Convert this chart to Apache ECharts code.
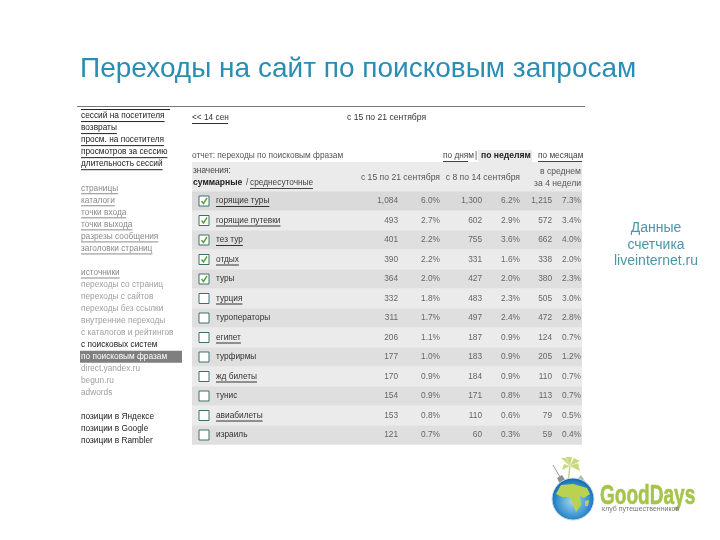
<!DOCTYPE html>
<html style="height: 100%">
<head>
<meta charset="utf-8">
</head>
<body style="height: 100%; margin: 0; background: #fff">
<div id="container" style="width: 720px; height: 540px"></div>
<script src="https://cdn.jsdelivr.net/npm/echarts@6/dist/echarts.min.js"></script>
<script>
var phrases = ['горящие туры', 'горящие путевки', 'тез тур', 'отдых', 'туры', 'турция', 'туроператоры',
    'египет', 'турфирмы', 'жд билеты', 'тунис', 'авиабилеты', 'израиль'];
var linked = [1, 1, 1, 1, 0, 1, 0, 1, 0, 1, 0, 1, 0];
var checked = [1, 1, 1, 1, 1, 0, 0, 0, 0, 0, 0, 0, 0];
var week1 = [1084, 493, 401, 390, 364, 332, 311, 206, 177, 170, 154, 153, 121];
var share1 = [6.0, 2.7, 2.2, 2.2, 2.0, 1.8, 1.7, 1.1, 1.0, 0.9, 0.9, 0.8, 0.7];
var week2 = [1300, 602, 755, 331, 427, 483, 497, 187, 183, 184, 171, 110, 60];
var share2 = [6.2, 2.9, 3.6, 1.6, 2.0, 2.3, 2.4, 0.9, 0.9, 0.9, 0.8, 0.6, 0.3];
var avg4 = [1215, 572, 662, 338, 380, 505, 472, 124, 205, 110, 113, 79, 59];
var shareAvg = [7.3, 3.4, 4.0, 2.0, 2.3, 3.0, 2.8, 0.7, 1.2, 0.7, 0.7, 0.5, 0.4];

var menuStats = ['посетителей за сессию', 'сессий на посетителя', 'возвраты', 'просм. на посетителя', 'просмотров за сессию', 'длительность сессий'];
var menuPages = ['страницы', 'каталоги', 'точки входа', 'точки выхода', 'разрезы сообщения', 'заголовки страниц'];
var menuSources = ['источники'];
var menuFrom = ['переходы со страниц', 'переходы с сайтов', 'переходы без ссылки', 'внутренние переходы', 'с каталогов и рейтингов'];
var menuSearch = ['с поисковых систем'];
var menuCurrent = ['по поисковым фразам'];
var menuEngines = ['direct.yandex.ru', 'begun.ru', 'adwords'];
var menuPositions = ['позиции в Яндексе', 'позиции в Google', 'позиции в Rambler'];

var titleText = 'Переходы на сайт по поисковым запросам';
var noteLines = ['Данные', 'счетчика', 'liveinternet.ru'];

var FONT = '"Liberation Sans", Arial, sans-serif';
var SMALL = '8.3px ' + FONT;
var HEAD = '8.6px ' + FONT;
var NOTE = '14px ' + FONT;
var measure = document.createElement('canvas').getContext('2d');

function textWidth(text, font) {
    measure.font = font;
    return measure.measureText(text).width;
}

// one menu list: [label, colour, underlined]
var menu = [];
function addMenu(items, color, line) {
    items.forEach(function (t) { menu.push([t, color, line]); });
}
addMenu(menuStats, '#222', true);
menu.push(['', '#000', false]);
addMenu(menuPages, '#8a8a8a', true);
menu.push(['', '#000', false]);
addMenu(menuSources, '#8a8a8a', true);
addMenu(menuFrom, '#a0a0a0', false);
addMenu(menuSearch, '#222', false);
addMenu(menuCurrent, '#fff', false);
addMenu(menuEngines, '#a0a0a0', false);
menu.push(['', '#000', false]);
addMenu(menuPositions, '#222', false);

function underlinedText(x, y, text, color, line, font) {
    var out = [{
        type: 'text',
        style: {x: x, y: y, text: text, fill: color, font: font, align: 'left', verticalAlign: 'middle'}
    }];
    if (line) {
        out.push({
            type: 'line',
            shape: {x1: x, y1: y + 5.5, x2: x + textWidth(text, font), y2: y + 5.5},
            style: {stroke: color, lineWidth: 1}
        });
    }
    return out;
}

function numText(x, y, text) {
    return {
        type: 'text',
        style: {x: x, y: y, text: text, fill: '#666', font: SMALL, align: 'right', verticalAlign: 'middle'}
    };
}

function thousands(v) {
    return v >= 1000 ? Math.floor(v / 1000) + ',' + String(v % 1000).padStart(3, '0') : String(v);
}

function renderRow(params, api) {
    var i = api.value(1);
    var p = api.coord([0, i]);
    var left = p[0];
    var y = p[1];
    var children = [{
        type: 'rect',
        shape: {x: left + 7, y: y - 5, width: 10, height: 10},
        style: {fill: '#fff', stroke: '#3f6f6f', lineWidth: 1}
    }];
    if (checked[i]) {
        children.push({
            type: 'polyline',
            shape: {points: [[left + 9.5, y], [left + 11.5, y + 2.5], [left + 15, y - 3]]},
            style: {fill: null, stroke: '#4fa03c', lineWidth: 1.4}
        });
    }
    children = children.concat(underlinedText(left + 24, y, phrases[i], '#333', linked[i], SMALL));
    children.push(numText(left + 206, y, thousands(week1[i])));
    children.push(numText(left + 248, y, share1[i].toFixed(1) + '%'));
    children.push(numText(left + 290, y, thousands(week2[i])));
    children.push(numText(left + 328, y, share2[i].toFixed(1) + '%'));
    children.push(numText(left + 360, y, thousands(avg4[i])));
    children.push(numText(left + 389, y, shareAvg[i].toFixed(1) + '%'));
    return {type: 'group', children: children};
}

function renderMenu(params, api) {
    var i = api.value(1);
    var p = api.coord([0, i]);
    return {
        type: 'group',
        children: underlinedText(p[0] + 1, p[1], menu[i][0], menu[i][1], menu[i][2], SMALL)
    };
}

function label(x, y, text, align, color, font) {
    return {
        type: 'text',
        silent: true,
        style: {x: x, y: y, text: text, fill: color || '#444', font: font || SMALL, align: align || 'left', verticalAlign: 'middle'}
    };
}

function logo() {
    var cx = 573, cy = 499, r = 21;
    var leaf = '#c9d97c';
    return [
        {type: 'line', shape: {x1: 553, y1: 465, x2: 563, y2: 482}, style: {stroke: '#999', lineWidth: 1}},
        {type: 'polygon', shape: {points: [[557, 478], [562, 475], [568, 484], [560, 484]]}, style: {fill: '#8b8f90'}},
        {type: 'polygon', shape: {points: [[575, 482], [581, 475], [586, 483], [582, 486]]}, style: {fill: '#b5b5b0'}},
        {type: 'line', shape: {x1: 570, y1: 466, x2: 568, y2: 482}, style: {stroke: leaf, lineWidth: 1.5}},
        {type: 'polygon', shape: {points: [[570, 466], [561, 458], [566, 458]]}, style: {fill: leaf}},
        {type: 'polygon', shape: {points: [[570, 466], [566, 457], [572, 457]]}, style: {fill: leaf}},
        {type: 'polygon', shape: {points: [[570, 466], [574, 458], [580, 461]]}, style: {fill: leaf}},
        {type: 'polygon', shape: {points: [[570, 466], [578, 463], [580, 471]]}, style: {fill: leaf}},
        {type: 'polygon', shape: {points: [[570, 466], [564, 464], [562, 470]]}, style: {fill: leaf}},
        {
            type: 'circle',
            shape: {cx: cx, cy: cy, r: r},
            style: {
                fill: new echarts.graphic.RadialGradient(0.5, 0.55, 0.5, [
                    {offset: 0, color: '#a9d6ef'},
                    {offset: 0.7, color: '#3d97d3'},
                    {offset: 1, color: '#1a6fb4'}
                ]),
                stroke: '#c8dcea',
                lineWidth: 1
            }
        },
        {type: 'polygon', shape: {points: [[561, 485], [573, 484], [587, 488], [590, 494], [584, 498], [580, 496], [581, 505], [576, 512], [573, 505], [570, 497], [562, 497], [556, 494]]}, style: {fill: '#b9d24f'}},
        {type: 'polygon', shape: {points: [[585, 501], [589, 500], [588, 506], [585, 506]]}, style: {fill: '#b9d24f'}},
        {
            type: 'text',
            x: 600,
            y: 496,
            scaleX: 0.68,
            style: {x: 0, y: 0, text: 'GoodDays', fill: '#a6c34a', font: 'bold 28px ' + FONT, align: 'left', verticalAlign: 'middle', stroke: '#a6c34a', lineWidth: 0.6}
        },
        {type: 'text', style: {x: 602, y: 509, text: 'клуб путешественников', fill: '#777', font: '7px ' + FONT, align: 'left', verticalAlign: 'middle'}}
    ];
}

var myChart = echarts.init(document.getElementById('container'), null, {renderer: 'canvas'});

var option = {
    animation: false,
    backgroundColor: '#fff',
    grid: [
        {left: 192, top: 191.25, width: 390, height: 253.5},
        {left: 80, top: 98, width: 102, height: 349}
    ],
    xAxis: [
        {gridIndex: 0, type: 'value', min: 0, max: 1, show: false},
        {gridIndex: 1, type: 'value', min: 0, max: 1, show: false}
    ],
    yAxis: [
        {gridIndex: 0, type: 'category', inverse: true, data: phrases, show: false},
        {gridIndex: 1, type: 'category', inverse: true, data: menu.map(function (m) { return m[0]; }), show: false}
    ],
    series: [
        {
            type: 'bar',
            xAxisIndex: 0,
            yAxisIndex: 0,
            barWidth: '100%',
            silent: true,
            data: phrases.map(function (p, i) {
                return {value: 1, itemStyle: {color: i === 0 ? '#dadada' : (i % 2 ? '#ebebeb' : '#dfdfdf')}};
            })
        },
        {
            type: 'custom',
            xAxisIndex: 0,
            yAxisIndex: 0,
            silent: true,
            clip: false,
            encode: {x: 0, y: 1},
            renderItem: renderRow,
            data: phrases.map(function (p, i) { return [0, i]; }),
            z: 3
        },
        {
            type: 'bar',
            xAxisIndex: 1,
            yAxisIndex: 1,
            barWidth: '100%',
            silent: true,
            itemStyle: {color: '#7f7f7f'},
            data: menu.map(function (m) { return menuCurrent.indexOf(m[0]) >= 0 ? 1 : null; })
        },
        {
            type: 'custom',
            xAxisIndex: 1,
            yAxisIndex: 1,
            silent: true,
            clip: false,
            encode: {x: 0, y: 1},
            renderItem: renderMenu,
            data: menu.map(function (m, i) { return [0, i]; }),
            z: 3
        }
    ],
    graphic: {
        elements: [
            label(80, 69, titleText, 'left', '#2a8db3', '28px ' + FONT),
            {type: 'rect', z: 10, shape: {x: 70, y: 90, width: 120, height: 17}, style: {fill: '#fff'}},
            {type: 'line', z: 11, shape: {x1: 77, y1: 106.5, x2: 585, y2: 106.5}, style: {stroke: '#777', lineWidth: 1}},

            label(192, 118, '<< 14 сен', 'left', '#333'),
            {type: 'line', shape: {x1: 192, y1: 123.5, x2: 228, y2: 123.5}, style: {stroke: '#333', lineWidth: 1}},
            label(347, 118, 'с 15 по 21 сентября', 'left', '#333', HEAD),

            label(192, 156, 'отчет: переходы по поисковым фразам', 'left', '#555'),
            {type: 'rect', shape: {x: 478, y: 150, width: 54, height: 12}, style: {fill: '#ebebeb'}},
            {type: 'rect', shape: {x: 192, y: 162, width: 390, height: 29.25}, style: {fill: '#ebebeb'}},
            label(443, 156, 'по дням', 'left', '#444'),
            {type: 'line', shape: {x1: 443, y1: 161.5, x2: 468, y2: 161.5}, style: {stroke: '#444', lineWidth: 1}},
            label(475, 156, '|', 'left', '#444'),
            label(481, 156, 'по неделям', 'left', '#222', 'bold 8.6px ' + FONT),
            label(538, 156, 'по месяцам', 'left', '#444'),
            {type: 'line', shape: {x1: 538, y1: 161.5, x2: 582, y2: 161.5}, style: {stroke: '#444', lineWidth: 1}},

            label(193, 171, 'значения:', 'left', '#444'),
            label(193, 183, 'суммарные', 'left', '#222', 'bold 8.6px ' + FONT),
            label(246, 183, '/', 'left', '#444'),
            label(250, 183, 'среднесуточные', 'left', '#444'),
            {type: 'line', shape: {x1: 250, y1: 188.5, x2: 313, y2: 188.5}, style: {stroke: '#444', lineWidth: 1}},
            label(440, 178, 'с 15 по 21 сентября', 'right', '#555', HEAD),
            label(520, 178, 'с 8 по 14 сентября', 'right', '#555', HEAD),
            label(581, 172, 'в среднем', 'right', '#555', HEAD),
            label(581, 184, 'за 4 недели', 'right', '#555', HEAD),

            label(656, 228, noteLines[0], 'center', '#4a97aa', NOTE),
            label(656, 245, noteLines[1], 'center', '#4a97aa', NOTE),
            label(656, 261, noteLines[2], 'center', '#4a97aa', NOTE)
        ].concat(logo())
    }
};

myChart.setOption(option);
</script>
</body>
</html>
